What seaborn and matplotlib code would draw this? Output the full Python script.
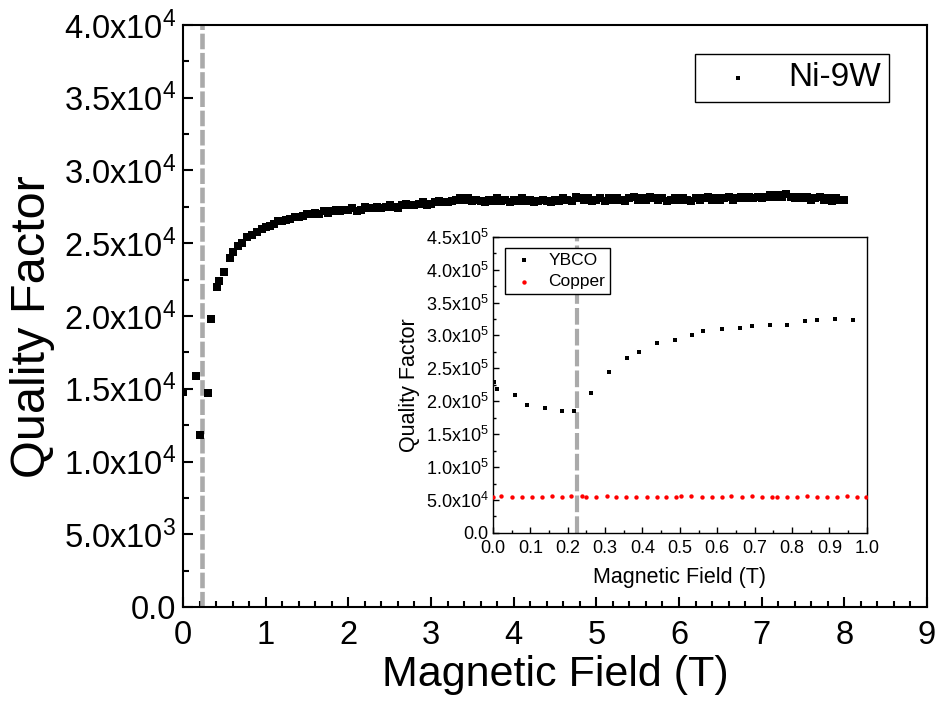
## Quality factor vs magnetic field (Ni-9W, inset YBCO / Copper)

import numpy as np
import pandas as pd
import seaborn as sns
import matplotlib.pyplot as plt
from matplotlib.ticker import FuncFormatter, MultipleLocator

## Dados - Ni-9W (Q em unidades de 1e4)
ni_x_start = [0.00, 0.16, 0.20, 0.30, 0.34, 0.41, 0.44, 0.50, 0.57, 0.61,
              0.67, 0.71, 0.77, 0.83, 0.89, 0.95, 1.00]
ni_q_start = [1.48, 1.59, 1.18, 1.47, 1.98, 2.20, 2.24, 2.30, 2.40, 2.44,
              2.48, 2.50, 2.54, 2.56, 2.58, 2.60, 2.61]

# varredura densa 1.05 T ... 8.00 T (passo 0.05 T)
ni_x_sweep = np.round(np.linspace(1.05, 8.00, 140), 2)
ni_q_sweep = [2.62, 2.63, 2.65, 2.65, 2.66, 2.67, 2.68, 2.68, 2.69, 2.70,
              2.70, 2.71, 2.70, 2.72, 2.71, 2.72, 2.73, 2.72, 2.73, 2.73,
              2.74, 2.72, 2.73, 2.75, 2.74, 2.74, 2.75, 2.74, 2.75, 2.76,
              2.75, 2.74, 2.76, 2.77, 2.76, 2.76, 2.77, 2.78, 2.76, 2.77,
              2.78, 2.79, 2.78, 2.78, 2.79, 2.80, 2.81, 2.80, 2.81, 2.79,
              2.80, 2.79, 2.78, 2.80, 2.79, 2.81, 2.79, 2.80, 2.78, 2.80,
              2.79, 2.81, 2.79, 2.80, 2.78, 2.79, 2.80, 2.79, 2.78, 2.80,
              2.79, 2.81, 2.80, 2.79, 2.82, 2.81, 2.80, 2.81, 2.79, 2.80,
              2.81, 2.79, 2.81, 2.80, 2.81, 2.80, 2.79, 2.81, 2.82, 2.80,
              2.81, 2.80, 2.82, 2.81, 2.80, 2.81, 2.79, 2.80, 2.81, 2.80,
              2.81, 2.80, 2.79, 2.81, 2.80, 2.81, 2.82, 2.80, 2.81, 2.80,
              2.81, 2.82, 2.80, 2.81, 2.82, 2.81, 2.82, 2.81, 2.82, 2.81,
              2.82, 2.83, 2.82, 2.83, 2.82, 2.84, 2.82, 2.81, 2.82, 2.81,
              2.82, 2.80, 2.81, 2.82, 2.80, 2.81, 2.79, 2.81, 2.80, 2.80]

## Dados - inset YBCO (Q em unidades de 1e5)
ybco_x = [0.002, 0.011, 0.058, 0.090, 0.138, 0.185, 0.216, 0.263, 0.311, 0.359,
          0.391, 0.438, 0.486, 0.532, 0.563, 0.613, 0.661, 0.693, 0.740, 0.788,
          0.836, 0.867, 0.915, 0.964]
ybco_q = [2.29, 2.18, 2.10, 1.95, 1.90, 1.845, 1.85, 2.13, 2.44, 2.65,
          2.75, 2.89, 2.93, 3.01, 3.06, 3.10, 3.12, 3.15, 3.165, 3.165,
          3.22, 3.235, 3.25, 3.235]

## Dados - inset Copper (Q em unidades de 1e4)
cu_x = [0.000, 0.022, 0.050, 0.077, 0.104, 0.131, 0.158, 0.185, 0.210, 0.237,
        0.250, 0.277, 0.304, 0.330, 0.357, 0.384, 0.411, 0.438, 0.464, 0.491,
        0.504, 0.531, 0.558, 0.585, 0.612, 0.638, 0.665, 0.692, 0.719, 0.746,
        0.759, 0.786, 0.813, 0.839, 0.866, 0.893, 0.920, 0.946, 0.973, 0.998]
cu_q = [5.45, 5.55, 5.50, 5.40, 5.45, 5.50, 5.55, 5.40, 5.55, 5.60,
        5.50, 5.50, 5.55, 5.45, 5.45, 5.40, 5.50, 5.50, 5.45, 5.50,
        5.55, 5.60, 5.45, 5.45, 5.40, 5.55, 5.40, 5.60, 5.45, 5.45,
        5.45, 5.40, 5.50, 5.55, 5.40, 5.40, 5.45, 5.60, 5.40, 5.45]

## Campo critico (linhas tracejadas)
campo_main = 0.235
campo_inset = 0.226

## Tabelas
ni = pd.DataFrame({'B': np.concatenate([ni_x_start, ni_x_sweep]),
                   'Q': np.concatenate([ni_q_start, ni_q_sweep]) * 1e4})
ybco = pd.DataFrame({'B': ybco_x, 'Q': np.array(ybco_q) * 1e5})
cu = pd.DataFrame({'B': cu_x, 'Q': np.array(cu_q) * 1e4})

## Estilo
sns.set_style('ticks')
plt.rcParams['font.family'] = ['Liberation Sans', 'DejaVu Sans']
plt.rcParams['mathtext.fontset'] = 'custom'
plt.rcParams['mathtext.rm'] = 'Liberation Sans'
plt.rcParams['mathtext.default'] = 'regular'
for k in ['text.color', 'axes.labelcolor', 'xtick.color', 'ytick.color',
          'axes.edgecolor']:
    plt.rcParams[k] = 'black'


def sci_fmt(v, pos):
    if v == 0:
        return '0.0'
    e = int(np.floor(np.log10(abs(v)) + 1e-9))
    m = v / 10 ** e
    return f'{m:.1f}x10$^{{{e}}}$'


fig = plt.figure(figsize=(9.39, 7.26), dpi=100)

## Grafico principal
ax = fig.add_axes([0.1949, 0.1639, 0.7923, 0.8017])
sns.scatterplot(data=ni, x='B', y='Q', ax=ax, marker='s', s=30,
                color='black', linewidth=0, label='Ni-9W', zorder=3)
ax.axvline(campo_main, color='#aaaaaa', lw=3.3, dashes=(3.4, 0.8), zorder=2)

ax.set_xlim(0, 9)
ax.set_ylim(0, 4e4)
ax.xaxis.set_major_locator(MultipleLocator(1))
ax.xaxis.set_minor_locator(MultipleLocator(0.2))
ax.yaxis.set_major_locator(MultipleLocator(5e3))
ax.yaxis.set_minor_locator(MultipleLocator(2.5e3))
ax.yaxis.set_major_formatter(FuncFormatter(sci_fmt))
ax.tick_params(which='both', direction='in', width=1.5, labelsize=23.5)
ax.tick_params(which='major', length=7)
ax.tick_params(which='minor', length=4)
ax.tick_params(axis='x', pad=9)
ax.tick_params(axis='y', pad=5)
for sp in ax.spines.values():
    sp.set_linewidth(1.5)

ax.set_xlabel('Magnetic Field (T)', fontsize=31, labelpad=3)
ax.set_ylabel('Quality Factor', fontsize=35, labelpad=6)
ax.yaxis.label.set_y(0.481)

ax.legend(loc='upper right', bbox_to_anchor=(0.949, 0.950), borderaxespad=0,
          fontsize=24, markerscale=0.6, fancybox=False, framealpha=1,
          edgecolor='black', handletextpad=0.45, borderpad=0.25,
          handlelength=2.1).get_frame().set_linewidth(1.0)

## Inset
ins = fig.add_axes([0.525, 0.266, 0.398, 0.408])
sns.scatterplot(data=ybco, x='B', y='Q', ax=ins, marker='s', s=9,
                color='black', linewidth=0, label='YBCO', zorder=3)
sns.scatterplot(data=cu, x='B', y='Q', ax=ins, marker='o', s=10,
                color='red', linewidth=0, label='Copper', zorder=3)
ins.axvline(campo_inset, color='#aaaaaa', lw=3.0, dashes=(4.0, 1.0), zorder=2)

ins.set_xlim(0, 1.0)
ins.set_ylim(0, 4.5e5)
ins.xaxis.set_major_locator(MultipleLocator(0.1))
ins.xaxis.set_minor_locator(MultipleLocator(0.05))
ins.xaxis.set_major_formatter(FuncFormatter(lambda v, p: f'{v:.1f}'))
ins.yaxis.set_major_locator(MultipleLocator(5e4))
ins.yaxis.set_minor_locator(MultipleLocator(2.5e4))
ins.yaxis.set_major_formatter(FuncFormatter(sci_fmt))
ins.tick_params(which='both', direction='in', width=1.0, labelsize=13)
ins.tick_params(which='major', length=4)
ins.tick_params(which='minor', length=2)
ins.tick_params(axis='x', pad=5)
ins.tick_params(axis='y', pad=3)
for sp in ins.spines.values():
    sp.set_linewidth(1.0)

ins.set_xlabel('Magnetic Field (T)', fontsize=15.5, labelpad=7)
ins.set_ylabel('Quality Factor', fontsize=15.5, labelpad=4)

ins.legend(loc='upper left', bbox_to_anchor=(0.032, 0.963), borderaxespad=0,
           fontsize=12.5, fancybox=False, framealpha=1, edgecolor='black',
           handletextpad=0.6, borderpad=0.3, labelspacing=0.35,
           handlelength=1.6).get_frame().set_linewidth(1.0)

fig.savefig('out.png', dpi=100)
